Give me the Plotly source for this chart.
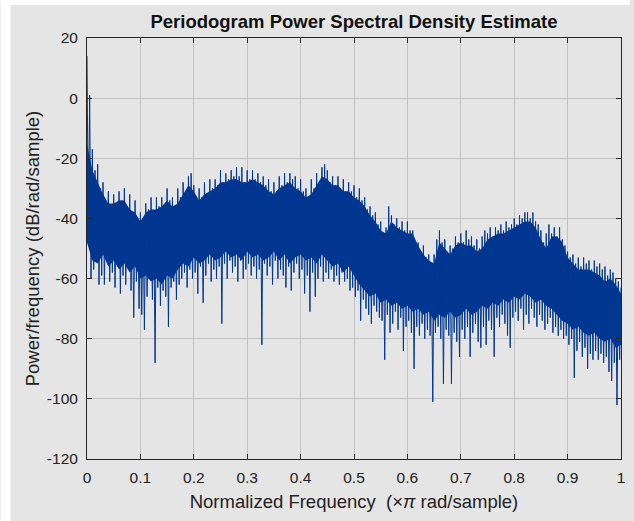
import plotly.graph_objects as go

# Normalized frequency grid (x pi rad/sample): peaks at i*0.005, troughs half a step later
n_peaks = 201
step = 0.005

# Local maxima of the periodogram (dB/rad/sample)
peak_db = [
    14, 1, -17, -24, -22, -30, -28, -35, -31, -37,
    -32, -37, -31, -34, -30, -36, -32, -38, -34, -40,
    -38, -40, -35, -37, -33, -38, -33, -36, -33, -37,
    -30, -34, -33, -36, -30, -33, -28, -32, -26, -25,
    -29, -34, -30, -33, -28, -32, -27, -30, -27, -29,
    -24, -28, -25, -27, -24, -26, -23, -26, -23, -28,
    -24, -27, -24, -27, -25, -28, -26, -29, -27, -31,
    -28, -31, -26, -29, -25, -28, -25, -27, -26, -30,
    -27, -31, -30, -33, -27, -30, -25, -28, -23, -22,
    -24, -28, -26, -29, -26, -30, -27, -31, -28, -31,
    -29, -33, -30, -34, -33, -37, -36, -39, -38, -42,
    -41, -45, -43, -36, -39, -42, -40, -43, -41, -44,
    -41, -44, -44, -48, -48, -51, -49, -53, -52, -55,
    -52, -47, -44, -48, -47, -53, -49, -50, -46, -48,
    -45, -48, -44, -47, -46, -49, -47, -50, -46, -44,
    -45, -43, -46, -43, -44, -42, -44, -41, -43, -42,
    -40, -42, -39, -40, -38, -38, -40, -38, -41, -42,
    -44, -48, -45, -42, -45, -43, -46, -43, -47, -49,
    -51, -53, -52, -55, -53, -56, -53, -55, -54, -57,
    -54, -56, -55, -57, -56, -59, -57, -58, -60, -61,
    -63,
]

# Local minima of the periodogram (dB/rad/sample)
trough_db = [
    -45, -60, -57, -52, -62, -59, -62, -54, -61, -58,
    -63, -56, -65, -59, -62, -57, -64, -73, -61, -70,
    -72, -77, -66, -60, -67, -88, -63, -69, -64, -66,
    -76, -63, -61, -67, -62, -60, -58, -63, -57, -60,
    -58, -65, -56, -68, -59, -55, -61, -57, -60, -56,
    -75, -55, -60, -54, -58, -56, -61, -54, -60, -57,
    -55, -59, -56, -60, -57, -82, -55, -59, -56, -62,
    -54, -60, -57, -59, -63, -56, -64, -58, -55, -60,
    -57, -65, -59, -71, -58, -66, -60, -56, -61, -58,
    -60, -57, -61, -59, -62, -58, -61, -60, -64, -63,
    -66, -64, -74, -67, -70, -72, -75, -69, -71, -73,
    -74, -87, -72, -78, -75, -71, -77, -73, -84, -76,
    -74, -78, -90, -76, -79, -75, -80, -77, -79, -101,
    -78, -76, -80, -95, -77, -79, -95, -78, -81, -86,
    -77, -80, -76, -86, -78, -75, -81, -83, -76, -82,
    -74, -77, -86, -73, -76, -72, -75, -79, -83, -73,
    -71, -74, -70, -77, -72, -75, -70, -73, -76, -72,
    -74, -77, -75, -73, -78, -76, -79, -77, -80, -79,
    -82, -80, -93, -84, -81, -86, -83, -90, -85, -87,
    -84, -87, -85, -88, -86, -91, -94, -88, -102, -87,
]

# Solid (densely overplotted) band of the trace, every 0.01: upper and lower edge
band_step = 0.01
band_top_db = [
    -15, -24, -28, -32, -35, -35, -34, -34, -37, -38,
    -41, -38, -37, -37, -36, -34, -36, -35, -32, -29,
    -31, -34, -32, -31, -30, -28, -28, -27, -27, -28,
    -28, -27, -28, -29, -31, -32, -30, -29, -28, -30,
    -31, -33, -32, -29, -26, -27, -29, -29, -31, -31,
    -33, -34, -36, -39, -41, -44, -45, -41, -43, -44,
    -45, -45, -49, -52, -54, -55, -48, -50, -52, -49,
    -48, -49, -49, -51, -50, -47, -46, -45, -45, -44,
    -43, -42, -41, -41, -43, -47, -50, -46, -46, -48,
    -53, -55, -57, -57, -57, -58, -59, -61, -60, -62,
    -65,
]
band_bottom_db = [
    -48, -54, -55, -52, -56, -54, -57, -55, -58, -56,
    -60, -59, -61, -60, -62, -59, -60, -57, -55, -56,
    -53, -55, -54, -52, -54, -53, -51, -53, -52, -54,
    -51, -53, -52, -54, -53, -51, -54, -52, -55, -53,
    -52, -54, -53, -55, -52, -54, -56, -55, -58, -56,
    -59, -62, -64, -66, -65, -68, -67, -69, -68, -70,
    -69, -71, -70, -72, -71, -74, -72, -73, -71, -73,
    -72, -70, -72, -71, -69, -70, -68, -69, -67, -68,
    -66, -67, -65, -66, -68, -67, -69, -70, -72, -74,
    -75, -77, -76, -78, -79, -78, -80, -81, -80, -83,
    -82,
]

x_ticks = [0, 0.1, 0.2, 0.3, 0.4, 0.5, 0.6, 0.7, 0.8, 0.9, 1]
x_tick_text = ["0", "0.1", "0.2", "0.3", "0.4", "0.5", "0.6", "0.7", "0.8", "0.9", "1"]
y_ticks = [-120, -100, -80, -60, -40, -20, 0, 20]
y_tick_text = ["-120", "-100", "-80", "-60", "-40", "-20", "0", "20"]

# Interleave peaks and troughs into one trace
xs, ys = [], []
for i in range(n_peaks):
    xs.append(i * step)
    ys.append(peak_db[i])
    if i < len(trough_db):
        xs.append(i * step + step / 2)
        ys.append(trough_db[i])

band_x = [i * band_step for i in range(len(band_top_db))]

FONT = "Liberation Sans, Arial, sans-serif"
AX = "#262626"
BG = "#e5e5e5"
BLUE = "#003791"

fig = go.Figure()
fig.add_trace(go.Scatter(x=band_x, y=band_bottom_db, mode="lines",
                         line=dict(width=0, color=BLUE),
                         showlegend=False, hoverinfo="skip"))
fig.add_trace(go.Scatter(x=band_x, y=band_top_db, mode="lines", fill="tonexty",
                         fillcolor=BLUE, line=dict(width=0, color=BLUE),
                         showlegend=False, hoverinfo="skip"))
fig.add_trace(go.Scatter(x=xs, y=ys, mode="lines",
                         line=dict(color=BLUE, width=1),
                         showlegend=False, hoverinfo="skip"))

axis_common = dict(
    showline=True, linecolor=AX, linewidth=1, mirror="ticks",
    ticks="inside", ticklen=5, tickcolor=AX, tickwidth=1,
    showgrid=True, gridcolor="#c2c2c2", gridwidth=1,
    zeroline=False,
    tickfont=dict(family=FONT, size=15.5, color="#222222"),
)

fig.update_layout(
    width=634, height=521,
    margin=dict(l=87, r=9, t=38, b=62),
    paper_bgcolor=BG, plot_bgcolor=BG,
    title=dict(text="<b>Periodogram Power Spectral Density Estimate</b>",
               x=0.5, xref="paper", xanchor="center",
               y=1 - 22 / 521, yref="container", yanchor="middle",
               font=dict(family=FONT, size=18.5, color="#111111")),
    xaxis=dict(range=[0, 1], tickvals=x_ticks, ticktext=x_tick_text,
               ticklabelstandoff=4,
               title=dict(text="Normalized Frequency  (×<i>π</i> rad/sample)",
                          font=dict(family=FONT, size=18.5, color="#222222"),
                          standoff=10),
               **axis_common),
    yaxis=dict(range=[-120, 20], tickvals=y_ticks, ticktext=y_tick_text,
               ticklabelstandoff=5,
               title=dict(text="Power/frequency (dB/rad/sample)",
                          font=dict(family=FONT, size=18.5, color="#222222"),
                          standoff=2),
               **axis_common),
    shapes=[
        dict(type="rect", xref="paper", yref="paper",
             x0=-87 / 538, x1=-77 / 538, y0=-62 / 421, y1=1 + 38 / 421,
             fillcolor="white", line=dict(width=0), layer="above"),
        dict(type="rect", xref="paper", yref="paper",
             x0=-87 / 538, x1=1 + 9 / 538, y0=1 + 33 / 421, y1=1 + 38 / 421,
             fillcolor="white", line=dict(width=0), layer="above"),
    ],
)

fig.write_html("out.html", config={"displayModeBar": False})
